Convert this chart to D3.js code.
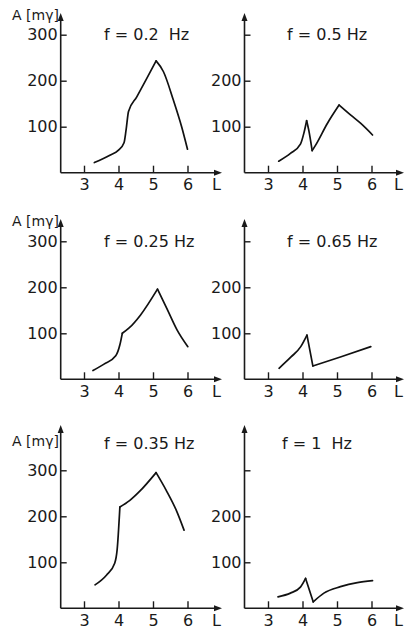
<!DOCTYPE html>
<html><head><meta charset="utf-8">
<script src="https://cdn.jsdelivr.net/npm/d3@7"></script>
<style>
html,body{margin:0;padding:0;background:#fff;}
svg{display:block;}
text{font-family:"DejaVu Sans",sans-serif;fill:#1a1a1a;white-space:pre;}
</style></head>
<body>
<svg id="c" width="412" height="629"></svg>
<script>
// Data (L-value, amplitude A in mγ)
const titles = ["f = 0.2  Hz","f = 0.5 Hz","f = 0.25 Hz","f = 0.65 Hz","f = 0.35 Hz","f = 1  Hz"];
const xTicks = [3,4,5,6];
const yTicks = [100,200,300];
const L_02  = [3.3,3.75,4.0,4.16,4.22,4.29,4.53,4.82,5.09,5.3,5.59,5.83,6.0];
const A_02  = [22,38,49,65,93,133,165,205,243,220,158,100,51];
const L_05  = [3.31,3.65,3.94,4.04,4.12,4.18,4.28,4.38,4.72,5.06,5.4,5.69,6.03];
const A_05  = [25,42,62,86,113,93,48,60,107,147,125,107,82];
const L_025 = [3.26,3.58,3.92,4.04,4.11,4.3,4.64,5.13,5.42,5.7,6.01];
const A_025 = [19,33,51,75,100,111,140,196,151,107,71];
const L_065 = [3.32,3.66,3.95,4.13,4.3,5.12,5.98];
const A_065 = [24,48,71,96,29,49,71];
const L_035 = [3.32,3.65,3.89,3.96,4.04,4.32,4.61,5.09,5.38,5.67,5.9];
const A_035 = [51,72,98,127,220,234,254,295,257,214,170];
const L_1   = [3.29,3.65,3.94,4.09,4.31,4.62,5.1,5.59,6.03];
const A_1   = [25,33,46,65,14,33,47,56,60];
// indices of sharp corners (peaks / troughs) in each series
const K_02 = [8], K_05 = [4,6,9], K_025 = [4,7], K_065 = [3,4], K_035 = [4,7], K_1 = [3,4];

const series = [[L_02,A_02,K_02],[L_05,A_05,K_05],[L_025,A_025,K_025],[L_065,A_065,K_065],[L_035,A_035,K_035],[L_1,A_1,K_1]];

// Layout
const colAxisX = [60.7, 244.5];
const colX3 = [84, 268];
const colEnd = [222, 404];
const rowAxisY = [172.7, 379.3, 608.3];
const rowTop = [13, 219, 425];
const titleX = [104, 287];
const titleBase = [40, 246.5, 449];
const unit = 34.5;

const svg = d3.select("#c");

function arrowUp(g,x,y){ g.append("path").attr("d",`M${x},${y} L${x-3},${y+8} L${x+3},${y+8} Z`).attr("fill","#1a1a1a"); }
function arrowRight(g,x,y){ g.append("path").attr("d",`M${x},${y} L${x-8},${y-3} L${x-8},${y+3} Z`).attr("fill","#1a1a1a"); }

for(let i=0;i<6;i++){
  const col=i%2, row=Math.floor(i/2);
  const ax=colAxisX[col], ay=rowAxisY[row];
  const x=d3.scaleLinear().domain([3,6]).range([colX3[col], colX3[col]+3*unit]);
  const y=d3.scaleLinear().domain([0,300]).range([ay, ay-138]);
  const g=svg.append("g");

  g.append("line").attr("x1",ax).attr("x2",ax).attr("y1",rowTop[row]+4).attr("y2",ay).attr("stroke","#1a1a1a").attr("stroke-width",1.6);
  arrowUp(g,ax,rowTop[row]);
  g.append("line").attr("x1",ax).attr("x2",colEnd[col]-4).attr("y1",ay).attr("y2",ay).attr("stroke","#1a1a1a").attr("stroke-width",1.6);
  arrowRight(g,colEnd[col],ay);

  const ya=d3.axisLeft(y).tickValues(yTicks).tickSizeInner(-6).tickSizeOuter(0).tickPadding(3)
    .tickFormat(d=> (col===1 && d===300) ? "" : d);
  const yg=g.append("g").attr("transform",`translate(${ax},0)`).call(ya);
  yg.select(".domain").remove();
  yg.selectAll("line").attr("stroke","#1a1a1a").attr("stroke-width",1.4);
  yg.selectAll("text").attr("font-size",16).attr("font-family","DejaVu Sans").attr("fill","#1a1a1a");

  const xa=d3.axisBottom(x).tickValues(xTicks).tickSizeInner(-7).tickSizeOuter(0).tickPadding(6).tickFormat(d3.format("d"));
  const xg=g.append("g").attr("transform",`translate(0,${ay})`).call(xa);
  xg.select(".domain").remove();
  xg.selectAll("line").attr("stroke","#1a1a1a").attr("stroke-width",1.4);
  xg.selectAll("text").attr("font-size",16).attr("font-family","DejaVu Sans").attr("fill","#1a1a1a");

  g.append("text").attr("x",colEnd[col]-10).attr("y",ay+17.5).attr("font-size",16).text("L");

  if(col===0){
    g.append("text").attr("x",12).attr("y",rowTop[row]+ (row===2?21:7)).attr("font-size",14).text("A [mγ]");
  }

  g.append("text").attr("x", (i===5)?282:titleX[col]).attr("y",titleBase[row]).attr("font-size",16).text(titles[i]);

  // curve: smooth (monotone) segments joined at sharp corners
  const [Ls,As,Ks]=series[i];
  const pts=Ls.map((l,k)=>[l,As[k]]);
  const cuts=[0,...Ks,pts.length-1];
  const line=d3.line().x(d=>x(d[0])).y(d=>y(d[1])).curve(d3.curveMonotoneX);
  for(let s=0;s<cuts.length-1;s++){
    g.append("path").datum(pts.slice(cuts[s],cuts[s+1]+1))
      .attr("d",line)
      .attr("fill","none").attr("stroke","#111").attr("stroke-width",1.7)
      .attr("stroke-linejoin","round").attr("stroke-linecap","round");
  }
}
</script>
</body></html>
